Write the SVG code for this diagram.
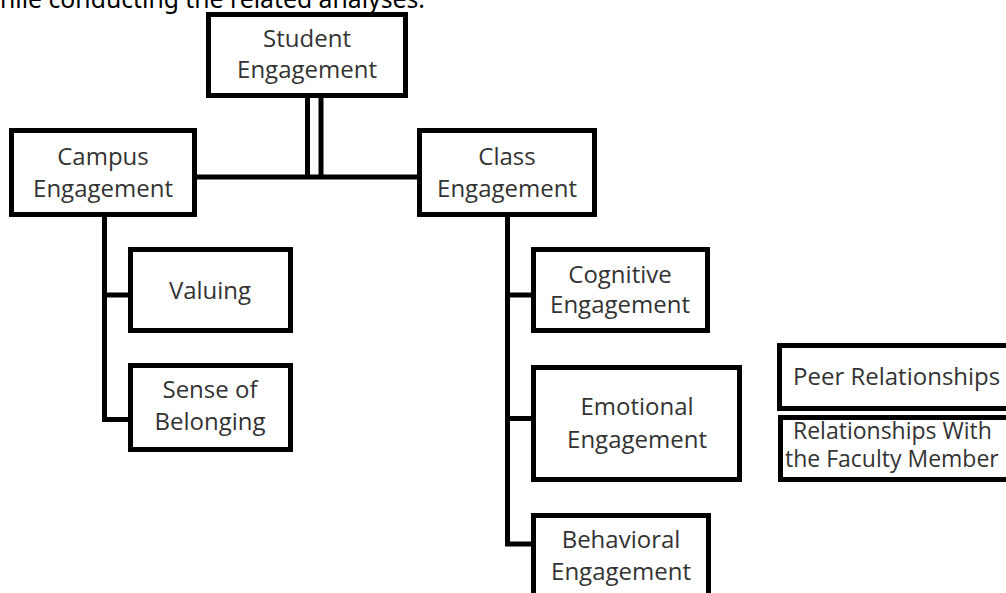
<svg xmlns="http://www.w3.org/2000/svg" width="1006" height="593" viewBox="0 0 1006 593">
<style>
.box{fill:#fff;stroke:#000;stroke-width:5}
.lbl{font-family:"Open Sans","Noto Sans",sans-serif;font-size:24px;fill:#333;text-anchor:middle}
.con{fill:none;stroke:#000;stroke-width:5}
.top{font-family:"Noto Sans","Open Sans",sans-serif;font-size:26px;fill:#000}
</style>
<rect width="1006" height="593" fill="#fff"/>
<text class="top" x="0" y="8" textLength="425" lengthAdjust="spacingAndGlyphs">hile conducting the related analyses.</text>
<g id="connectors">
<line class="con" x1="307.5" y1="98" x2="307.5" y2="179" stroke-width="4"/>
<line class="con" x1="321" y1="98" x2="321" y2="179" stroke-width="4"/>
<line class="con" x1="196" y1="177" x2="418" y2="177"/>
<path class="con" d="M104.5 216 V419.5 H129"/>
<path class="con" d="M104.5 295 H129"/>
<path class="con" d="M507.5 216 V544 H532"/>
<path class="con" d="M507.5 295 H532"/>
<path class="con" d="M507.5 418.5 H532"/>
</g>
<g id="student">
<rect class="box" x="208.5" y="14.5" width="197" height="81"/>
<text class="lbl" x="307" y="47">Student</text>
<text class="lbl" x="307" y="78">Engagement</text>
</g>
<g id="campus">
<rect class="box" x="11.5" y="130.5" width="183" height="84"/>
<text class="lbl" x="103" y="165">Campus</text>
<text class="lbl" x="103" y="197">Engagement</text>
</g>
<g id="class">
<rect class="box" x="419.5" y="130.5" width="175" height="84"/>
<text class="lbl" x="507" y="165">Class</text>
<text class="lbl" x="507" y="197">Engagement</text>
</g>
<g id="valuing">
<rect class="box" x="130.5" y="249.5" width="160" height="81"/>
<text class="lbl" x="210" y="299">Valuing</text>
</g>
<g id="belonging">
<rect class="box" x="130.5" y="365.5" width="160" height="84"/>
<text class="lbl" x="210" y="398">Sense of</text>
<text class="lbl" x="210" y="430">Belonging</text>
</g>
<g id="cognitive">
<rect class="box" x="533.5" y="249.5" width="174" height="81"/>
<text class="lbl" x="620" y="283">Cognitive</text>
<text class="lbl" x="620" y="313">Engagement</text>
</g>
<g id="emotional">
<rect class="box" x="533.5" y="367.5" width="206" height="112"/>
<text class="lbl" x="637" y="415">Emotional</text>
<text class="lbl" x="637" y="448">Engagement</text>
</g>
<g id="behavioral">
<rect class="box" x="533.5" y="515.5" width="175" height="100"/>
<text class="lbl" x="621" y="548">Behavioral</text>
<text class="lbl" x="621" y="580">Engagement</text>
</g>
<g id="peer">
<rect class="box" x="779.5" y="345.5" width="240" height="63"/>
<text class="lbl" x="793" y="385" style="text-anchor:start">Peer Relationships</text>
</g>
<g id="faculty">
<rect class="box" x="780.5" y="417.5" width="240" height="62"/>
<text class="lbl" x="793" y="439" style="text-anchor:start;font-size:23px">Relationships With</text>
<text class="lbl" x="785" y="467" style="text-anchor:start;font-size:23px">the Faculty Member</text>
</g>
</svg>
